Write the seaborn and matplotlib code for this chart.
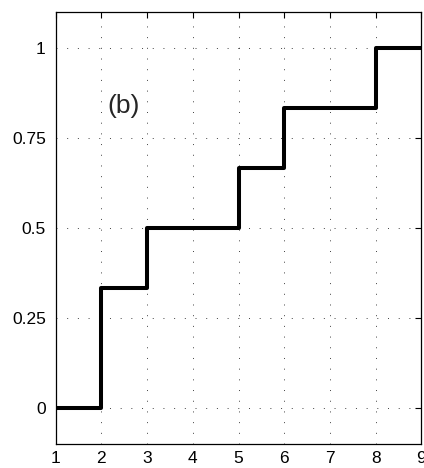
import numpy as np
import pandas as pd
import seaborn as sns
import matplotlib.pyplot as plt

# step points of the empirical CDF
x_vals = [1, 2, 3, 5, 6, 8, 9]
y_vals = [0, 1/3, 0.5, 2/3, 5/6, 1, 1]
x_ticks = [1, 2, 3, 4, 5, 6, 7, 8, 9]
y_ticks = [0, 0.25, 0.5, 0.75, 1]
y_tick_labels = ['0', '0.25', '0.5', '0.75', '1']

sns.set_style('white')
plt.rcParams['font.family'] = ['Liberation Sans', 'DejaVu Sans']

df = pd.DataFrame({'x': x_vals, 'y': y_vals})

fig = plt.figure(figsize=(4.24, 4.68), dpi=100)
ax = fig.add_axes([0.131, 0.052, 0.863, 0.922])

sns.lineplot(data=df, x='x', y='y', drawstyle='steps-post', color='black',
             linewidth=2.9, ax=ax)

ax.set_xlim(1, 9)
ax.set_ylim(-0.1, 1.1)
ax.set_xticks(x_ticks)
ax.set_yticks(y_ticks)
ax.set_yticklabels(y_tick_labels)
ax.set_xlabel('')
ax.set_ylabel('')
ax.grid(True, linestyle=(0, (1, 10)), color='black', linewidth=0.7, alpha=0.75)
ax.tick_params(direction='in', length=4, width=0.8, top=True, right=True,
               labelsize=12.5, colors='black', pad=5)
ax.tick_params(axis='y', pad=7)
for s in ax.spines.values():
    s.set_color('black')
    s.set_linewidth(0.9)

ax.text(2.48, 0.84, '(b)', fontsize=19, ha='center', va='center')

fig.savefig('out.png', dpi=100)
plt.close(fig)
